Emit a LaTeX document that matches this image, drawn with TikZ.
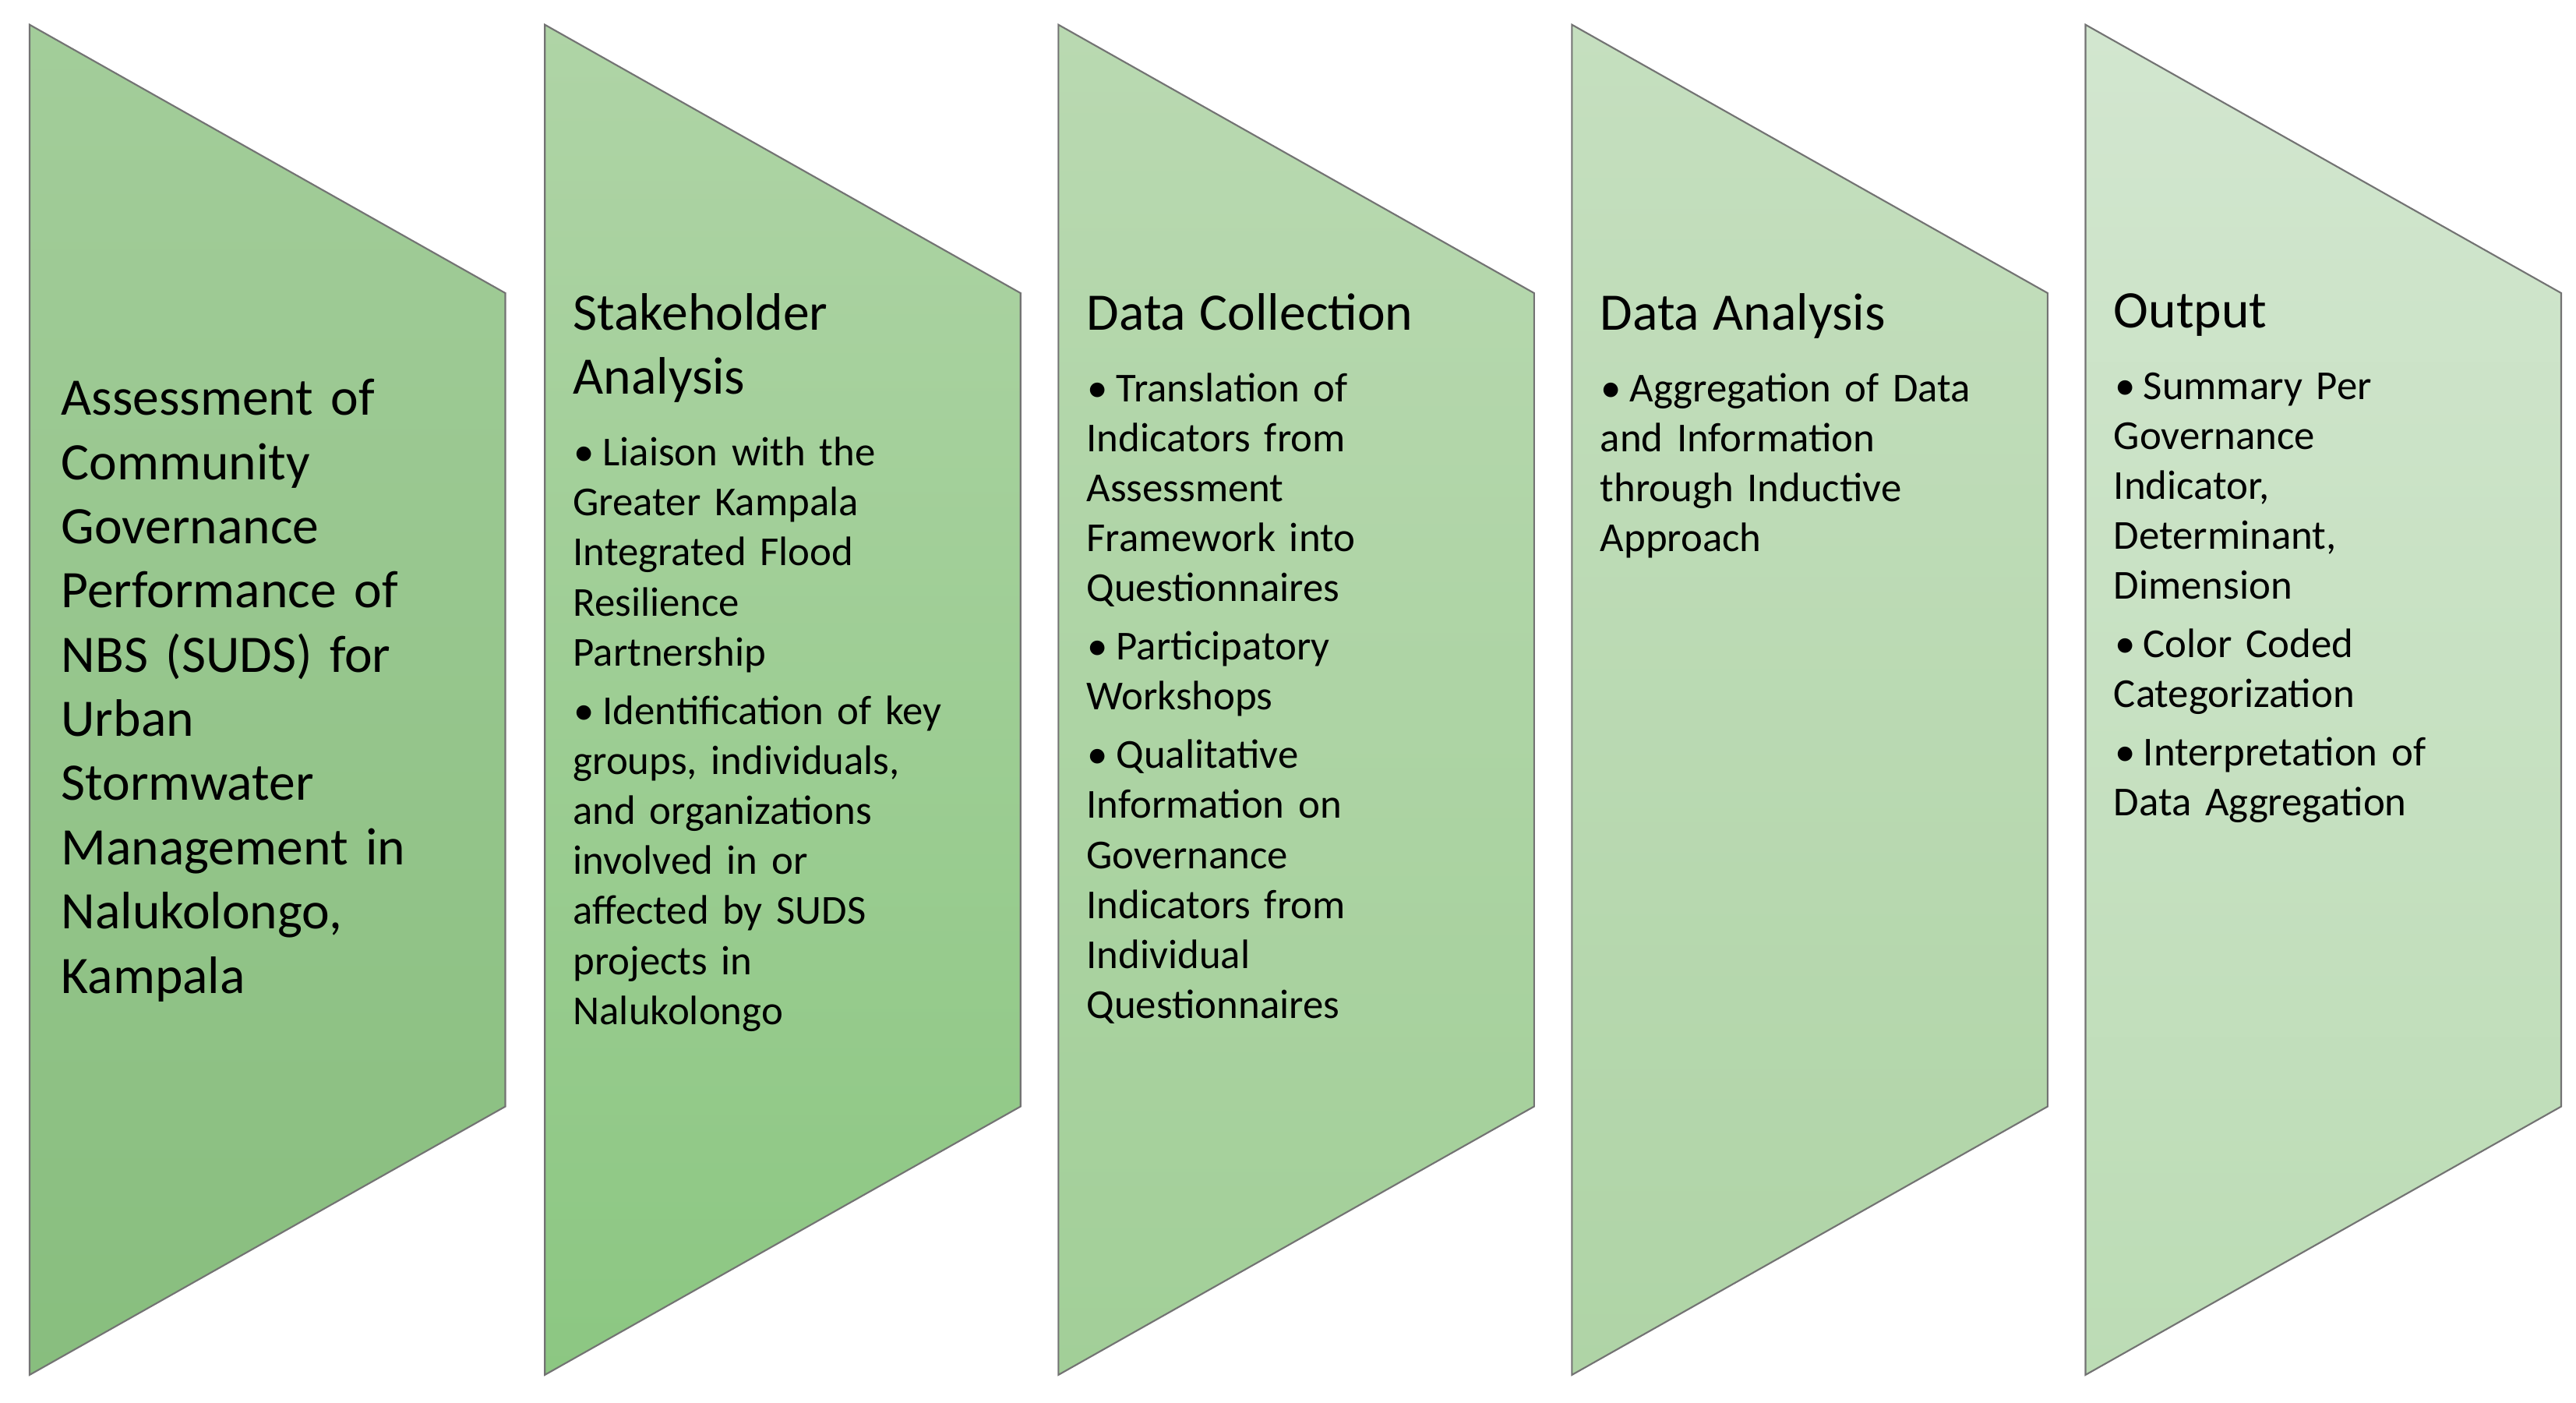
\documentclass[tikz,border=0pt]{standalone}
\usepackage{fontspec}
\setmainfont{Carlito}
\begin{document}
\newcommand{\bul}[1]{\par\vspace{5pt}\noindent\hangindent=18pt\hangafter=0\llap{\textbullet\hspace{5pt}}#1\par}
\newcommand{\hd}[1]{{\fontsize{32}{39}\selectfont #1\par}\vspace{8pt}}
\begin{tikzpicture}[x=1pt,y=-1pt,
  panel/.style={draw=black!55,line width=1pt},
  txt/.style={anchor=north west,inner sep=0pt,text width=270pt,align=left,font=\fontsize{25}{30.4}\selectfont}]
\useasboundingbox (0,0) rectangle (1565,852);
\definecolor{a1}{HTML}{A3CD9A}\definecolor{b1}{HTML}{88BE7E}
\definecolor{a2}{HTML}{AFD4A6}\definecolor{b2}{HTML}{8CC782}
\definecolor{a3}{HTML}{B9D9B1}\definecolor{b3}{HTML}{A2CF98}
\definecolor{a4}{HTML}{C5DFBF}\definecolor{b4}{HTML}{AFD4A6}
\definecolor{a5}{HTML}{D2E6CF}\definecolor{b5}{HTML}{BCDCB5}
\foreach \i/\x in {1/18,2/331,3/643,4/955,5/1267}{
  \path[panel,top color=a\i,bottom color=b\i] (\x,15) -- (\x+289,178) -- (\x+289,672) -- (\x,835) -- cycle;
}
\node[txt,font=\fontsize{32}{39}\selectfont] (t1) at (37,230) {Assessment of\\Community\\Governance\\Performance of\\NBS (SUDS) for\\Urban\\Stormwater\\Management in\\Nalukolongo,\\Kampala};
\node[txt] (t2) at (348,178) {\hd{Stakeholder\\Analysis}
\bul{Liaison with the\\Greater Kampala\\Integrated Flood\\Resilience\\Partnership}
\bul{Identification of key\\groups, individuals,\\and organizations\\involved in or\\affected by SUDS\\projects in\\Nalukolongo}};
\node[txt] (t3) at (660,178) {\hd{Data Collection}
\bul{Translation of\\Indicators from\\Assessment\\Framework into\\Questionnaires}
\bul{Participatory\\Workshops}
\bul{Qualitative\\Information on\\Governance\\Indicators from\\Individual\\Questionnaires}};
\node[txt] (t4) at (972,178) {\hd{Data Analysis}
\bul{Aggregation of Data\\and Information\\through Inductive\\Approach}};
\node[txt] (t5) at (1284,178) {\hd{Output}
\bul{Summary Per\\Governance\\Indicator,\\Determinant,\\Dimension}
\bul{Color Coded\\Categorization}
\bul{Interpretation of\\Data Aggregation}};
\end{tikzpicture}
\end{document}
